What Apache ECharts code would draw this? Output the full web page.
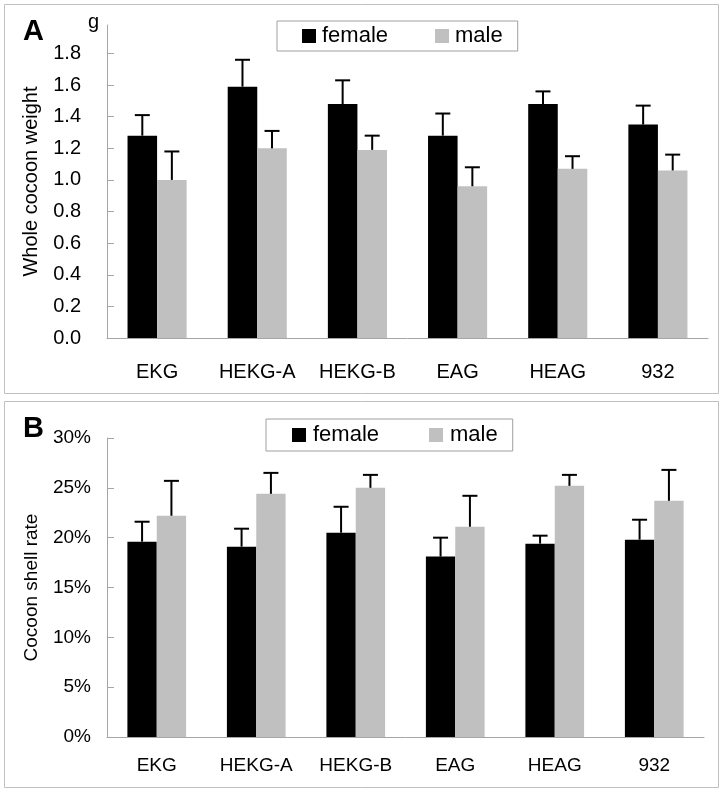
<!DOCTYPE html>
<html>
<head>
<meta charset="utf-8">
<script src="https://cdn.jsdelivr.net/npm/echarts@6/dist/echarts.min.js"></script>
<style>
html,body{margin:0;padding:0;background:#fff;}
#c{width:728px;height:792px;}
</style>
</head>
<body>
<div id="c"></div>
<script>
const categories = ['EKG', 'HEKG-A', 'HEKG-B', 'EAG', 'HEAG', '932'];
// Panel A: whole cocoon weight (g)
const weightFemale = [1.28, 1.59, 1.48, 1.28, 1.48, 1.35];
const weightFemaleUpper = [1.41, 1.76, 1.63, 1.42, 1.56, 1.47];
const weightMale = [1.00, 1.20, 1.19, 0.96, 1.07, 1.06];
const weightMaleUpper = [1.18, 1.31, 1.28, 1.08, 1.15, 1.16];
// Panel B: cocoon shell rate (%)
const shellFemale = [19.6, 19.1, 20.5, 18.1, 19.4, 19.8];
const shellFemaleUpper = [21.6, 20.9, 23.1, 20.0, 20.2, 21.8];
const shellMale = [22.2, 24.4, 25.0, 21.1, 25.2, 23.7];
const shellMaleUpper = [25.7, 26.5, 26.3, 24.2, 26.3, 26.8];

const FONT = 'Liberation Sans, Arial, sans-serif';
const GAP = 0.41;

function errItem(sign) {
  return function (params, api) {
    const idx = api.value(0);
    const top = api.coord([idx, api.value(2)]);
    const base = api.coord([idx, api.value(1)]);
    const catW = api.size([1, 0])[0];
    const barW = catW * (1 - GAP) / 2;
    const x = top[0] + sign * barW / 2;
    const cap = 7.5;
    const st = { stroke: '#000', lineWidth: 2 };
    return {
      type: 'group',
      children: [
        { type: 'line', shape: { x1: x, y1: base[1], x2: x, y2: top[1] }, style: st },
        { type: 'line', shape: { x1: x - cap, y1: top[1], x2: x + cap, y2: top[1] }, style: st }
      ]
    };
  };
}
function errData(mean, upper) {
  return categories.map((c, i) => [i, mean[i], upper[i]]);
}

const axisGray = '#a6a6a6';
const chart = echarts.init(document.getElementById('c'));
chart.setOption({
  animation: false,
  textStyle: { fontFamily: FONT },
  graphic: [
    { type: 'rect', shape: { x: 4.5, y: 4.5, width: 714, height: 389 }, style: { fill: 'none', stroke: '#c0c0c0', lineWidth: 1 } },
    { type: 'rect', shape: { x: 4.5, y: 401.5, width: 714, height: 386 }, style: { fill: 'none', stroke: '#c0c0c0', lineWidth: 1 } },
    { type: 'text', left: 23, top: 17, style: { text: 'A', font: 'bold 29px ' + FONT, fill: '#000' } },
    { type: 'text', left: 23, top: 414, style: { text: 'B', font: 'bold 29px ' + FONT, fill: '#000' } },
    { type: 'text', left: 88, top: 12, style: { text: 'g', font: '20px ' + FONT, fill: '#000' } }
  ],
  legend: [
    {
      data: ['female', 'male'], left: 277, top: 21, orient: 'horizontal',
      itemWidth: 14, itemHeight: 14, itemGap: 47, icon: 'rect',
      padding: [4, 15, 4, 25], borderColor: '#a0a0a0', borderWidth: 1,
      textStyle: { fontSize: 22, fontFamily: FONT, color: '#000', padding: [0, 0, 0, 1] },
      selectedMode: false
    },
    {
      data: ['female', 'male'], left: 266, top: 419, orient: 'horizontal',
      itemWidth: 14, itemHeight: 14, itemGap: 50, icon: 'rect',
      padding: [5, 15, 5, 26], borderColor: '#a0a0a0', borderWidth: 1,
      textStyle: { fontSize: 22, fontFamily: FONT, color: '#000', padding: [0, 0, 0, 2] },
      selectedMode: false
    }
  ],
  grid: [
    { left: 107, top: 25, right: 20, bottom: 454, containLabel: false },
    { left: 107, top: 438, right: 24, bottom: 55, containLabel: false }
  ],
  xAxis: [
    {
      type: 'category', gridIndex: 0, data: categories,
      axisLine: { lineStyle: { color: axisGray, width: 1 } },
      axisTick: { inside: true, length: 7, lineStyle: { color: axisGray } },
      axisLabel: { fontSize: 20, color: '#000', margin: 24, fontFamily: FONT }
    },
    {
      type: 'category', gridIndex: 1, data: categories,
      axisLine: { lineStyle: { color: axisGray, width: 1 } },
      axisTick: { inside: true, length: 7, lineStyle: { color: axisGray } },
      axisLabel: { fontSize: 19, color: '#000', margin: 19, fontFamily: FONT }
    }
  ],
  yAxis: [
    {
      type: 'value', gridIndex: 0, min: 0, max: 1.98, interval: 0.2,
      name: 'Whole cocoon weight', nameLocation: 'middle', nameGap: 66,
      nameTextStyle: { fontSize: 20, color: '#000', fontFamily: FONT },
      axisLine: { show: true, lineStyle: { color: axisGray, width: 1 } },
      axisTick: { show: true, inside: true, length: 7, lineStyle: { color: axisGray } },
      splitLine: { show: false },
      axisLabel: { fontSize: 20, color: '#000', margin: 26, showMaxLabel: false, formatter: v => v.toFixed(1), fontFamily: FONT }
    },
    {
      type: 'value', gridIndex: 1, min: 0, max: 30, interval: 5,
      name: 'Cocoon shell rate', nameLocation: 'middle', nameGap: 66,
      nameTextStyle: { fontSize: 19, color: '#000', fontFamily: FONT },
      axisLine: { show: true, lineStyle: { color: axisGray, width: 1 } },
      axisTick: { show: true, inside: true, length: 7, lineStyle: { color: axisGray } },
      splitLine: { show: false },
      axisLabel: { fontSize: 19, color: '#000', margin: 16, formatter: '{value}%', fontFamily: FONT }
    }
  ],
  series: [
    { name: 'female', type: 'bar', xAxisIndex: 0, yAxisIndex: 0, data: weightFemale, barGap: '0%', barCategoryGap: '41%', itemStyle: { color: '#000' } },
    { name: 'male', type: 'bar', xAxisIndex: 0, yAxisIndex: 0, data: weightMale, barGap: '0%', barCategoryGap: '41%', itemStyle: { color: '#c0c0c0' } },
    { name: 'female', type: 'bar', xAxisIndex: 1, yAxisIndex: 1, data: shellFemale, barGap: '0%', barCategoryGap: '41%', itemStyle: { color: '#000' } },
    { name: 'male', type: 'bar', xAxisIndex: 1, yAxisIndex: 1, data: shellMale, barGap: '0%', barCategoryGap: '41%', itemStyle: { color: '#c0c0c0' } },
    { type: 'custom', xAxisIndex: 0, yAxisIndex: 0, renderItem: errItem(-1), data: errData(weightFemale, weightFemaleUpper), z: 3, silent: true },
    { type: 'custom', xAxisIndex: 0, yAxisIndex: 0, renderItem: errItem(1), data: errData(weightMale, weightMaleUpper), z: 3, silent: true },
    { type: 'custom', xAxisIndex: 1, yAxisIndex: 1, renderItem: errItem(-1), data: errData(shellFemale, shellFemaleUpper), z: 3, silent: true },
    { type: 'custom', xAxisIndex: 1, yAxisIndex: 1, renderItem: errItem(1), data: errData(shellMale, shellMaleUpper), z: 3, silent: true }
  ]
});
</script>
</body>
</html>
